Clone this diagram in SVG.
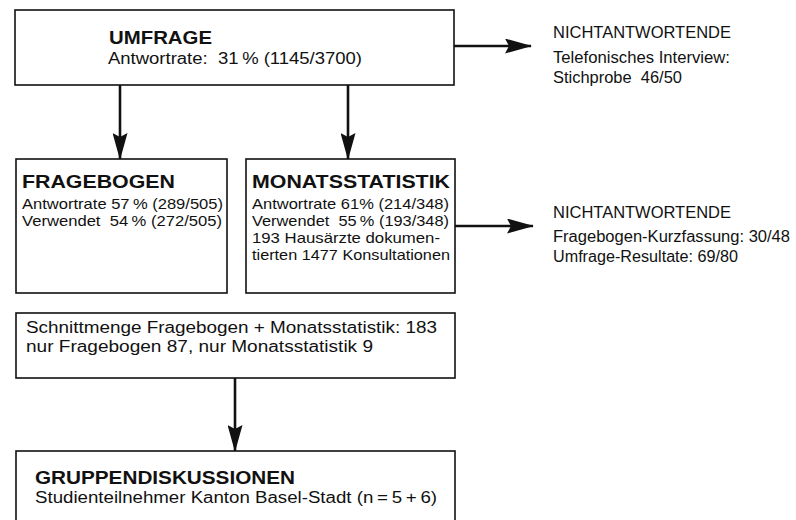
<svg xmlns="http://www.w3.org/2000/svg" width="796" height="520" viewBox="0 0 796 520">
<style>
.box{fill:#fff;stroke:#111;stroke-width:1.6}
.t{font-family:"Liberation Sans",Arial,Helvetica,sans-serif;fill:#111;font-size:16px}
.s{font-family:"Liberation Sans",Arial,Helvetica,sans-serif;fill:#111;font-size:14.6px}
.b{font-family:"Liberation Sans",Arial,Helvetica,sans-serif;fill:#111;font-weight:bold;font-size:19px}
.c{fill:none;stroke:#111;stroke-width:2.6}
</style>
<defs>
<marker id="ah" markerUnits="userSpaceOnUse" markerWidth="27" markerHeight="15" refX="26" refY="7.5" orient="auto" viewBox="0 0 27 15">
<path d="M0,0 L27,7.5 L0,15 L4,7.5 Z" fill="#111"/>
</marker>
</defs>
<rect width="796" height="520" fill="#fff"/>
<g id="connectors">
<line class="c" x1="454" y1="46" x2="531" y2="46" marker-end="url(#ah)"/>
<line class="c" x1="120" y1="85" x2="120" y2="159" marker-end="url(#ah)"/>
<line class="c" x1="348" y1="85" x2="348" y2="159" marker-end="url(#ah)"/>
<line class="c" x1="455" y1="226" x2="533" y2="226" marker-end="url(#ah)"/>
<line class="c" x1="235" y1="378" x2="235" y2="451" marker-end="url(#ah)"/>
</g>
<g id="umfrage">
<rect class="box" x="15" y="10" width="439" height="75"/>
<text class="b" x="109" y="44" textLength="103" lengthAdjust="spacingAndGlyphs">UMFRAGE</text>
<text class="t" x="108" y="64" textLength="254" lengthAdjust="spacingAndGlyphs">Antwortrate:&#160; 31&#8201;% (1145/3700)</text>
</g>
<g id="nicht1">
<text class="t" x="553" y="38" textLength="178" lengthAdjust="spacingAndGlyphs">NICHTANTWORTENDE</text>
<text class="t" x="553" y="63" textLength="177" lengthAdjust="spacingAndGlyphs">Telefonisches Interview:</text>
<text class="t" x="553" y="83" textLength="129" lengthAdjust="spacingAndGlyphs">Stichprobe&#160; 46/50</text>
</g>
<g id="fragebogen">
<rect class="box" x="16" y="159" width="211" height="134"/>
<text class="b" x="22" y="188" textLength="153" lengthAdjust="spacingAndGlyphs">FRAGEBOGEN</text>
<text class="s" x="22" y="209" textLength="201" lengthAdjust="spacingAndGlyphs">Antwortrate 57&#8201;% (289/505)</text>
<text class="s" x="22" y="226" textLength="200" lengthAdjust="spacingAndGlyphs">Verwendet&#160; 54&#8201;% (272/505)</text>
</g>
<g id="monatsstatistik">
<rect class="box" x="246" y="159" width="209" height="134"/>
<text class="b" x="252" y="188" textLength="198" lengthAdjust="spacingAndGlyphs">MONATSSTATISTIK</text>
<text class="s" x="252" y="209" textLength="197" lengthAdjust="spacingAndGlyphs">Antwortrate 61% (214/348)</text>
<text class="s" x="252" y="226" textLength="197" lengthAdjust="spacingAndGlyphs">Verwendet&#160; 55&#8201;% (193/348)</text>
<text class="s" x="252" y="243" textLength="188" lengthAdjust="spacingAndGlyphs">193 Hausärzte dokumen-</text>
<text class="s" x="252" y="260" textLength="198" lengthAdjust="spacingAndGlyphs">tierten 1477 Konsultationen</text>
</g>
<g id="nicht2">
<text class="t" x="553" y="218" textLength="178" lengthAdjust="spacingAndGlyphs">NICHTANTWORTENDE</text>
<text class="t" x="553" y="242" textLength="237" lengthAdjust="spacingAndGlyphs">Fragebogen-Kurzfassung: 30/48</text>
<text class="t" x="553" y="262" textLength="185" lengthAdjust="spacingAndGlyphs">Umfrage-Resultate: 69/80</text>
</g>
<g id="schnittmenge">
<rect class="box" x="16" y="313" width="439" height="65"/>
<text class="t" x="26" y="333" textLength="411" lengthAdjust="spacingAndGlyphs">Schnittmenge Fragebogen + Monatsstatistik: 183</text>
<text class="t" x="26" y="352" textLength="347" lengthAdjust="spacingAndGlyphs">nur Fragebogen 87, nur Monatsstatistik 9</text>
</g>
<g id="gruppendiskussionen">
<rect class="box" x="16" y="451" width="439" height="75"/>
<text class="b" x="35" y="484" textLength="260" lengthAdjust="spacingAndGlyphs">GRUPPENDISKUSSIONEN</text>
<text class="t" x="35" y="503" textLength="402" lengthAdjust="spacingAndGlyphs">Studienteilnehmer Kanton Basel-Stadt (n&#8201;=&#8201;5&#8201;+&#8201;6)</text>
</g>
</svg>
